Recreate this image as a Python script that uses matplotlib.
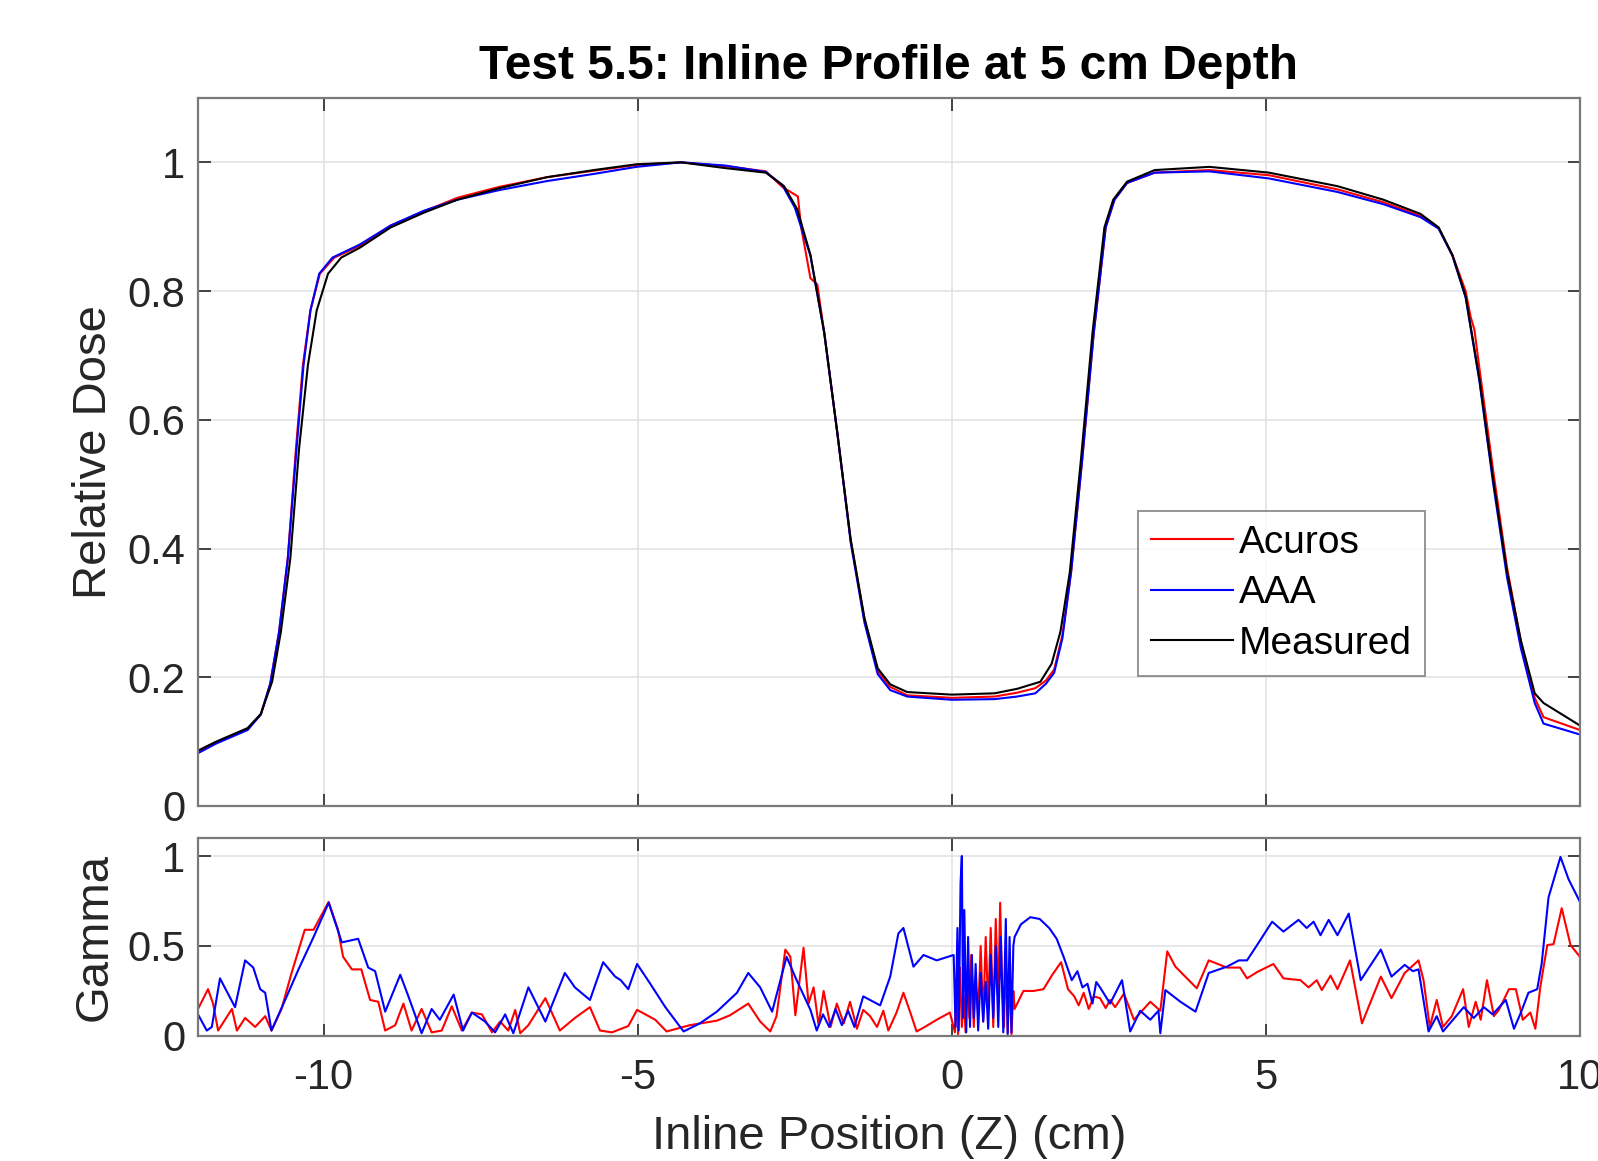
import matplotlib
matplotlib.use("Agg")
import matplotlib.pyplot as plt
from matplotlib.lines import Line2D


# -----------------------------
# Data
# -----------------------------
# Top panel: relative dose profiles
meas_x = [-12.0, -11.71, -11.21, -11.0, -10.82, -10.68, -10.53, -10.39, -10.25, -10.11,
          -9.93, -9.72, -9.43, -8.93, -8.4, -7.87, -7.2, -6.44, -5.7, -5.02,
          -4.31, -3.6, -2.96, -2.67, -2.46, -2.25, -2.03, -1.82, -1.61, -1.39,
          -1.18, -0.98, -0.71, 0.0, 0.68, 1.04, 1.41, 1.59, 1.73, 1.88,
          2.06, 2.24, 2.43, 2.57, 2.79, 3.23, 4.1, 5.05, 6.14, 6.87,
          7.46, 7.75, 7.97, 8.18, 8.4, 8.62, 8.84, 9.06, 9.28, 9.42, 10.0]
meas_v = [0.086, 0.10, 0.121, 0.143, 0.193, 0.271, 0.385, 0.556, 0.685, 0.770,
          0.827, 0.852, 0.867, 0.899, 0.922, 0.942, 0.960, 0.977, 0.988, 0.997,
          1.0, 0.991, 0.984, 0.963, 0.927, 0.856, 0.735, 0.578, 0.414, 0.292,
          0.214, 0.189, 0.177, 0.173, 0.175, 0.182, 0.193, 0.221, 0.271, 0.364,
          0.542, 0.735, 0.899, 0.942, 0.970, 0.988, 0.993, 0.984, 0.963, 0.942,
          0.920, 0.899, 0.856, 0.792, 0.663, 0.506, 0.364, 0.257, 0.175, 0.160, 0.125]

aaa_x = [-12.0, -11.71, -11.21, -11.0, -10.85, -10.71, -10.57, -10.43, -10.32, -10.21,
         -10.07, -9.86, -9.43, -8.93, -8.4, -7.87, -7.2, -6.44, -5.7, -5.02,
         -4.31, -3.6, -2.96, -2.7, -2.5, -2.25, -2.03, -1.82, -1.61, -1.39,
         -1.18, -0.98, -0.71, 0.0, 0.68, 1.04, 1.33, 1.5, 1.63, 1.76,
         1.9, 2.08, 2.26, 2.45, 2.59, 2.79, 3.23, 4.1, 5.05, 6.14,
         6.87, 7.46, 7.75, 7.97, 8.18, 8.4, 8.62, 8.84, 9.06, 9.28, 9.42, 10.0]
aaa_v = [0.082, 0.097, 0.118, 0.142, 0.19, 0.27, 0.385, 0.556, 0.685, 0.77,
         0.827, 0.852, 0.872, 0.902, 0.925, 0.942, 0.957, 0.971, 0.982, 0.993,
         1.0, 0.995, 0.985, 0.965, 0.93, 0.855, 0.735, 0.578, 0.41, 0.285,
         0.205, 0.18, 0.170, 0.165, 0.166, 0.170, 0.175, 0.19, 0.207, 0.26,
         0.364, 0.542, 0.735, 0.899, 0.942, 0.968, 0.984, 0.986, 0.975, 0.954,
         0.935, 0.915, 0.897, 0.855, 0.79, 0.66, 0.50, 0.355, 0.245, 0.160, 0.128, 0.111]

acuros_x = [-12.0, -11.71, -11.21, -11.0, -10.85, -10.71, -10.57, -10.44, -10.33, -10.21,
            -10.06, -9.83, -9.43, -8.93, -8.4, -7.87, -7.2, -6.44, -5.7, -5.02,
            -4.31, -3.6, -2.96, -2.7, -2.45, -2.4, -2.25, -2.14, -2.03, -1.82,
            -1.61, -1.39, -1.18, -0.98, -0.71, 0.0, 0.68, 1.04, 1.33, 1.5,
            1.63, 1.76, 1.9, 2.08, 2.26, 2.45, 2.59, 2.79, 3.23, 4.1,
            5.05, 6.14, 6.87, 7.46, 7.75, 7.97, 8.18, 8.26, 8.32, 8.4,
            8.62, 8.84, 9.06, 9.28, 9.42, 10.0]
acuros_v = [0.084, 0.099, 0.12, 0.142, 0.19, 0.27, 0.385, 0.556, 0.685, 0.77,
            0.827, 0.852, 0.870, 0.902, 0.924, 0.945, 0.962, 0.977, 0.987, 0.996,
            1.0, 0.994, 0.986, 0.962, 0.947, 0.90, 0.82, 0.81, 0.735, 0.578,
            0.414, 0.29, 0.21, 0.185, 0.172, 0.168, 0.170, 0.176, 0.183, 0.195,
            0.212, 0.265, 0.364, 0.542, 0.735, 0.899, 0.942, 0.968, 0.984, 0.988,
            0.980, 0.958, 0.938, 0.917, 0.898, 0.856, 0.80, 0.76, 0.74, 0.68,
            0.52, 0.37, 0.255, 0.168, 0.138, 0.118]

# Bottom panel: gamma index
gam_acuros_x = [-12.0, -11.84, -11.76, -11.68, -11.46, -11.38, -11.25, -11.09, -10.93, -10.83,
                -10.67, -10.51, -10.3, -10.16, -9.92, -9.77, -9.69, -9.55, -9.4, -9.26,
                -9.13, -9.02, -8.86, -8.73, -8.6, -8.44, -8.28, -8.12, -7.96, -7.8,
                -7.64, -7.48, -7.32, -7.19, -7.06, -6.95, -6.87, -6.74, -6.47, -6.24,
                -6.0, -5.76, -5.6, -5.41, -5.15, -5.01, -4.72, -4.54, -4.17, -3.74,
                -3.53, -3.24, -3.05, -2.89, -2.79, -2.65, -2.57, -2.49, -2.36, -2.28,
                -2.2, -2.12, -2.04, -1.93, -1.83, -1.72, -1.62, -1.51, -1.41, -1.3,
                -1.19, -1.09, -1.01, -0.88, -0.77, -0.66, -0.56, -0.43, -0.24, -0.03,
                0.05, 0.08, 0.1, 0.13, 0.16, 0.19, 0.22, 0.25, 0.28, 0.31,
                0.35, 0.38, 0.42, 0.46, 0.5, 0.54, 0.58, 0.62, 0.66, 0.7,
                0.74, 0.77, 0.8, 0.83, 0.86, 0.89, 0.92, 0.95, 0.98, 1.0,
                1.14, 1.3, 1.46, 1.6, 1.74, 1.85, 1.95, 2.02, 2.1, 2.18,
                2.26, 2.36, 2.45, 2.52, 2.6, 2.74, 2.9, 3.16, 3.32, 3.43,
                3.56, 3.9, 4.09, 4.38, 4.59, 4.7, 4.86, 5.12, 5.28, 5.55,
                5.68, 5.81, 5.89, 6.03, 6.14, 6.34, 6.53, 6.83, 7.0, 7.21,
                7.43, 7.51, 7.61, 7.72, 7.82, 7.96, 8.14, 8.23, 8.34, 8.42,
                8.52, 8.63, 8.71, 8.87, 8.98, 9.09, 9.21, 9.29, 9.37, 9.48,
                9.58, 9.71, 9.85, 10.0]
gam_acuros = [0.15, 0.26, 0.18, 0.03, 0.15, 0.03, 0.10, 0.05, 0.11, 0.03,
              0.15, 0.35, 0.59, 0.59, 0.745, 0.59, 0.44, 0.37, 0.37, 0.20,
              0.19, 0.03, 0.06, 0.18, 0.03, 0.15, 0.02, 0.03, 0.165, 0.03,
              0.13, 0.12, 0.02, 0.08, 0.03, 0.145, 0.015, 0.06, 0.21, 0.03,
              0.10, 0.16, 0.03, 0.02, 0.055, 0.145, 0.09, 0.025, 0.06, 0.085,
              0.115, 0.18, 0.08, 0.025, 0.11, 0.48, 0.44, 0.115, 0.49, 0.18,
              0.27, 0.06, 0.25, 0.05, 0.18, 0.07, 0.19, 0.04, 0.145, 0.11,
              0.05, 0.14, 0.03, 0.13, 0.24, 0.13, 0.025, 0.05, 0.09, 0.13,
              0.02, 0.30, 0.01, 0.38, 0.05, 0.22, 0.02, 0.35, 0.10, 0.45,
              0.05, 0.30, 0.12, 0.50, 0.08, 0.55, 0.15, 0.60, 0.05, 0.65,
              0.20, 0.74, 0.30, 0.05, 0.45, 0.02, 0.35, 0.01, 0.25, 0.15,
              0.25, 0.25, 0.26, 0.34, 0.41, 0.26, 0.22, 0.17, 0.24, 0.15,
              0.22, 0.21, 0.155, 0.20, 0.16, 0.235, 0.09, 0.19, 0.14, 0.47,
              0.385, 0.265, 0.42, 0.38, 0.38, 0.32, 0.355, 0.40, 0.32, 0.31,
              0.27, 0.31, 0.255, 0.335, 0.26, 0.42, 0.07, 0.33, 0.21, 0.35,
              0.42, 0.31, 0.05, 0.20, 0.05, 0.11, 0.26, 0.05, 0.19, 0.09,
              0.31, 0.11, 0.145, 0.26, 0.26, 0.09, 0.13, 0.04, 0.275, 0.505,
              0.51, 0.71, 0.505, 0.44]

gam_aaa_x = [-12.0, -11.86, -11.78, -11.65, -11.41, -11.25, -11.12, -11.01, -10.93, -10.83,
             -10.6, -10.4, -10.16, -9.92, -9.71, -9.45, -9.29, -9.18, -9.02, -8.78,
             -8.65, -8.44, -8.28, -8.15, -7.93, -7.78, -7.64, -7.43, -7.27, -7.11,
             -6.98, -6.74, -6.47, -6.16, -6.0, -5.76, -5.55, -5.36, -5.27, -5.15,
             -5.01, -4.8, -4.56, -4.27, -4.01, -3.74, -3.42, -3.24, -3.05, -2.86,
             -2.63, -2.47, -2.25, -2.15, -2.05, -1.95, -1.85, -1.75, -1.65, -1.55,
             -1.41, -1.14, -0.98, -0.85, -0.77, -0.61, -0.45, -0.24, 0.03,
             0.06, 0.09, 0.11, 0.14, 0.16, 0.18, 0.2, 0.23, 0.26, 0.29,
             0.32, 0.35, 0.38, 0.42, 0.46, 0.5, 0.54, 0.58, 0.62, 0.66,
             0.7, 0.74, 0.78, 0.82, 0.86, 0.89, 0.92, 0.95, 0.98, 1.0,
             1.1, 1.25, 1.4, 1.55, 1.67, 1.78, 1.91, 2.0, 2.08, 2.16,
             2.24, 2.3, 2.36, 2.52, 2.71, 2.84, 3.0, 3.16, 3.29, 3.32,
             3.4, 3.64, 3.88, 4.09, 4.38, 4.57, 4.7, 4.86, 5.1, 5.28,
             5.52, 5.65, 5.76, 5.87, 6.0, 6.14, 6.32, 6.51, 6.83, 7.0,
             7.21, 7.34, 7.43, 7.59, 7.72, 7.82, 8.15, 8.31, 8.47, 8.61,
             8.82, 8.95, 9.06, 9.18, 9.32, 9.39, 9.5, 9.69, 9.82, 10.0]
gam_aaa = [0.12, 0.03, 0.05, 0.32, 0.16, 0.42, 0.38, 0.26, 0.24, 0.03,
           0.21, 0.37, 0.55, 0.74, 0.52, 0.54, 0.38, 0.36, 0.135, 0.34,
           0.22, 0.015, 0.15, 0.09, 0.23, 0.03, 0.13, 0.08, 0.02, 0.12,
           0.015, 0.27, 0.08, 0.35, 0.27, 0.20, 0.41, 0.33, 0.31, 0.26,
           0.40, 0.29, 0.16, 0.025, 0.07, 0.135, 0.24, 0.35, 0.27, 0.135,
           0.44, 0.31, 0.145, 0.03, 0.12, 0.05, 0.15, 0.06, 0.14, 0.05,
           0.22, 0.17, 0.33, 0.57, 0.60, 0.385, 0.45, 0.42, 0.45,
           0.05, 0.60, 0.03, 0.85, 1.0, 0.10, 0.70, 0.02, 0.55, 0.05,
           0.45, 0.10, 0.40, 0.03, 0.35, 0.08, 0.30, 0.04, 0.45, 0.10,
           0.50, 0.05, 0.55, 0.02, 0.65, 0.01, 0.55, 0.02, 0.50, 0.55,
           0.62, 0.66, 0.65, 0.60, 0.54, 0.44, 0.31, 0.36, 0.27, 0.29,
           0.18, 0.30, 0.27, 0.18, 0.31, 0.025, 0.14, 0.09, 0.14, 0.015,
           0.255, 0.19, 0.135, 0.35, 0.385, 0.42, 0.42, 0.505, 0.635, 0.58,
           0.645, 0.60, 0.635, 0.56, 0.645, 0.56, 0.68, 0.31, 0.48, 0.33,
           0.395, 0.36, 0.37, 0.025, 0.11, 0.025, 0.16, 0.10, 0.16, 0.12,
           0.20, 0.04, 0.13, 0.24, 0.26, 0.40, 0.77, 0.995, 0.87, 0.745]

xticks = [-10, -5, 0, 5, 10]
xtick_labels = ["-10", "-5", "0", "5", "10"]
dose_ticks = [0, 0.2, 0.4, 0.6, 0.8, 1]
dose_tick_labels = ["0", "0.2", "0.4", "0.6", "0.8", "1"]
gamma_ticks = [0, 0.5, 1]
gamma_tick_labels = ["0", "0.5", "1"]

FRAME = "#7a7a7a"
TEXT = "#262626"
GRID = "#e3e3e3"
LW = 1.5


def style_axes(ax):
    for sp in ax.spines.values():
        sp.set_color(FRAME)
        sp.set_linewidth(1.6)
    ax.tick_params(direction="in", length=9, width=1.2, color=TEXT,
                   top=True, right=True, labelsize=30, labelcolor=TEXT, pad=9)
    ax.grid(True, color=GRID, linewidth=1.2)
    ax.set_axisbelow(True)


def main():
    plt.rcParams["font.family"] = ["Liberation Sans", "DejaVu Sans"]

    fig = plt.figure(figsize=(15.98, 11.61), dpi=100)
    ax1 = fig.add_axes([0.1239, 0.3058, 0.8648, 0.6098])
    ax2 = fig.add_axes([0.1239, 0.1077, 0.8648, 0.1705])

    # -----------------------------
    # Top: dose profiles
    # -----------------------------
    ax1.plot(acuros_x, acuros_v, color="red", lw=LW, label="Acuros")
    ax1.plot(aaa_x, aaa_v, color="blue", lw=LW, label="AAA")
    ax1.plot(meas_x, meas_v, color="black", lw=LW, label="Measured")
    ax1.set_xlim(-12, 10)
    ax1.set_ylim(0, 1.1)
    ax1.set_xticks(xticks)
    ax1.set_xticklabels([])
    ax1.set_yticks(dose_ticks)
    ax1.set_yticklabels(dose_tick_labels)
    style_axes(ax1)
    ax1.set_ylabel("Relative Dose", fontsize=34, color=TEXT)
    ax1.set_title("Test 5.5: Inline Profile at 5 cm Depth", fontsize=34.5,
                  fontweight="bold", pad=14)

    handles = [Line2D([], [], color="red", lw=LW),
               Line2D([], [], color="blue", lw=LW),
               Line2D([], [], color="black", lw=LW)]
    leg = ax1.legend(handles, ["Acuros", "AAA", "Measured"], loc="lower left",
                     bbox_to_anchor=(0.680, 0.184), fontsize=28, frameon=True,
                     fancybox=False, edgecolor=FRAME, handlelength=2.1,
                     handletextpad=0.15, labelspacing=0.38, borderpad=0.35,
                     borderaxespad=0)
    leg.get_frame().set_linewidth(1.4)

    # -----------------------------
    # Bottom: gamma
    # -----------------------------
    ax2.plot(gam_acuros_x, gam_acuros, color="red", lw=LW)
    ax2.plot(gam_aaa_x, gam_aaa, color="blue", lw=LW)
    ax2.set_xlim(-12, 10)
    ax2.set_ylim(0, 1.1)
    ax2.set_xticks(xticks)
    ax2.set_xticklabels(xtick_labels)
    ax2.set_yticks(gamma_ticks)
    ax2.set_yticklabels(gamma_tick_labels)
    style_axes(ax2)
    ax2.tick_params(axis="x", pad=16)
    ax2.set_ylabel("Gamma", fontsize=34, color=TEXT)
    ax2.set_xlabel("Inline Position (Z) (cm)", fontsize=34, color=TEXT, labelpad=12)
    ax1.yaxis.set_label_coords(-0.059, 0.5)
    ax2.yaxis.set_label_coords(-0.059, 0.5)

    fig.savefig("out.png", dpi=100)
    plt.close(fig)


if __name__ == "__main__":
    main()
